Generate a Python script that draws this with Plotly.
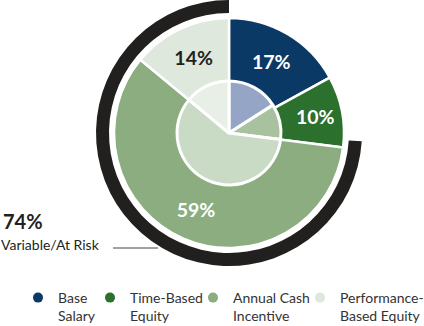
import plotly.graph_objects as go

categories = ["Base Salary", "Time-Based Equity", "Annual Cash Incentive", "Performance-Based Equity"]
legend_labels = ["Base<br>Salary", "Time-Based<br>Equity", "Annual Cash<br>Incentive", "Performance-<br>Based Equity"]
outer_values = [17, 10, 59, 14]
inner_values = [16, 11, 59, 14]
at_risk_values = [26, 74]
at_risk_label = "74%"
at_risk_text = "Variable/At Risk"

outer_colors = ["#0b3966", "#2b702d", "#8bad80", "#dfe8dc"]
inner_colors = ["#94a5c6", "#a8c2a0", "#c9dbc5", "#e8efe6"]
text_colors = ["#ffffff", "#ffffff", "#ffffff", "#231f20"]

W, H = 424, 326
CX, CY = 229, 133


def dom(r):
    return dict(x=[(CX - r) / W, (CX + r) / W],
                y=[(H - CY - r) / H, (H - CY + r) / H])


fig = go.Figure()

# black "variable / at risk" arc
fig.add_trace(go.Pie(
    values=at_risk_values, labels=["fixed", "at risk"], sort=False,
    direction="clockwise", rotation=0, hole=120 / 133,
    marker=dict(colors=["rgba(0,0,0,0)", "#221f1f"], line=dict(width=0)),
    textinfo="none", hoverinfo="skip", showlegend=False, domain=dom(133),
))

# outer ring
fig.add_trace(go.Pie(
    values=outer_values, labels=categories, sort=False,
    direction="clockwise", rotation=0, hole=51 / 115,
    marker=dict(colors=outer_colors, line=dict(color="white", width=2.5)),
    text=[f"{v}%" for v in outer_values], textinfo="text",
    textposition="inside", insidetextorientation="horizontal",
    insidetextfont=dict(family="Lato", size=19.5, weight="bold", color=text_colors),
    hoverinfo="skip", showlegend=False, domain=dom(115),
))

# inner pie
fig.add_trace(go.Pie(
    values=inner_values, labels=categories, sort=False,
    direction="clockwise", rotation=0,
    marker=dict(colors=inner_colors, line=dict(color="white", width=3)),
    textinfo="none", hoverinfo="skip", showlegend=False, domain=dom(52),
))

# legend entries
legend_names = ["legend", "legend2", "legend3", "legend4"]
marker_x = [38, 110, 213, 320]
for i, cat in enumerate(categories):
    fig.add_trace(go.Scatter(
        x=[None], y=[None], mode="markers", name=legend_labels[i],
        marker=dict(color=outer_colors[i], size=10), legend=legend_names[i],
        showlegend=True, hoverinfo="skip",
    ))

layout_legends = {}
for i, ln in enumerate(legend_names):
    layout_legends[ln] = dict(
        x=(marker_x[i] - 20) / W, xanchor="left", y=(H - 282) / H, yanchor="top",
        orientation="v", valign="top", bgcolor="rgba(0,0,0,0)", borderwidth=0,
        font=dict(family="Lato", size=14, color="#333333"),
        itemclick=False, itemdoubleclick=False, tracegroupgap=0,
    )

fig.update_layout(
    width=W, height=H, autosize=False,
    margin=dict(l=0, r=0, t=0, b=0, autoexpand=False),
    paper_bgcolor="white", plot_bgcolor="white",
    xaxis=dict(visible=False), yaxis=dict(visible=False),
    annotations=[
        dict(text=f"<b>{at_risk_label}</b>", x=2 / W, y=(H - 220.5) / H, xref="paper", yref="paper",
             xanchor="left", yanchor="middle", showarrow=False, borderpad=0,
             font=dict(family="Lato", size=20, color="#231f20")),
        dict(text=at_risk_text, x=0, y=(H - 244) / H, xref="paper", yref="paper",
             xanchor="left", yanchor="middle", showarrow=False, borderpad=0,
             font=dict(family="Lato", size=14, color="#231f20")),
    ],
    shapes=[dict(type="line", xref="paper", yref="paper",
                 x0=113 / W, x1=158 / W, y0=(H - 248) / H, y1=(H - 248) / H,
                 line=dict(color="#444444", width=1))],
    **layout_legends,
)

fig.write_html("out.html")
